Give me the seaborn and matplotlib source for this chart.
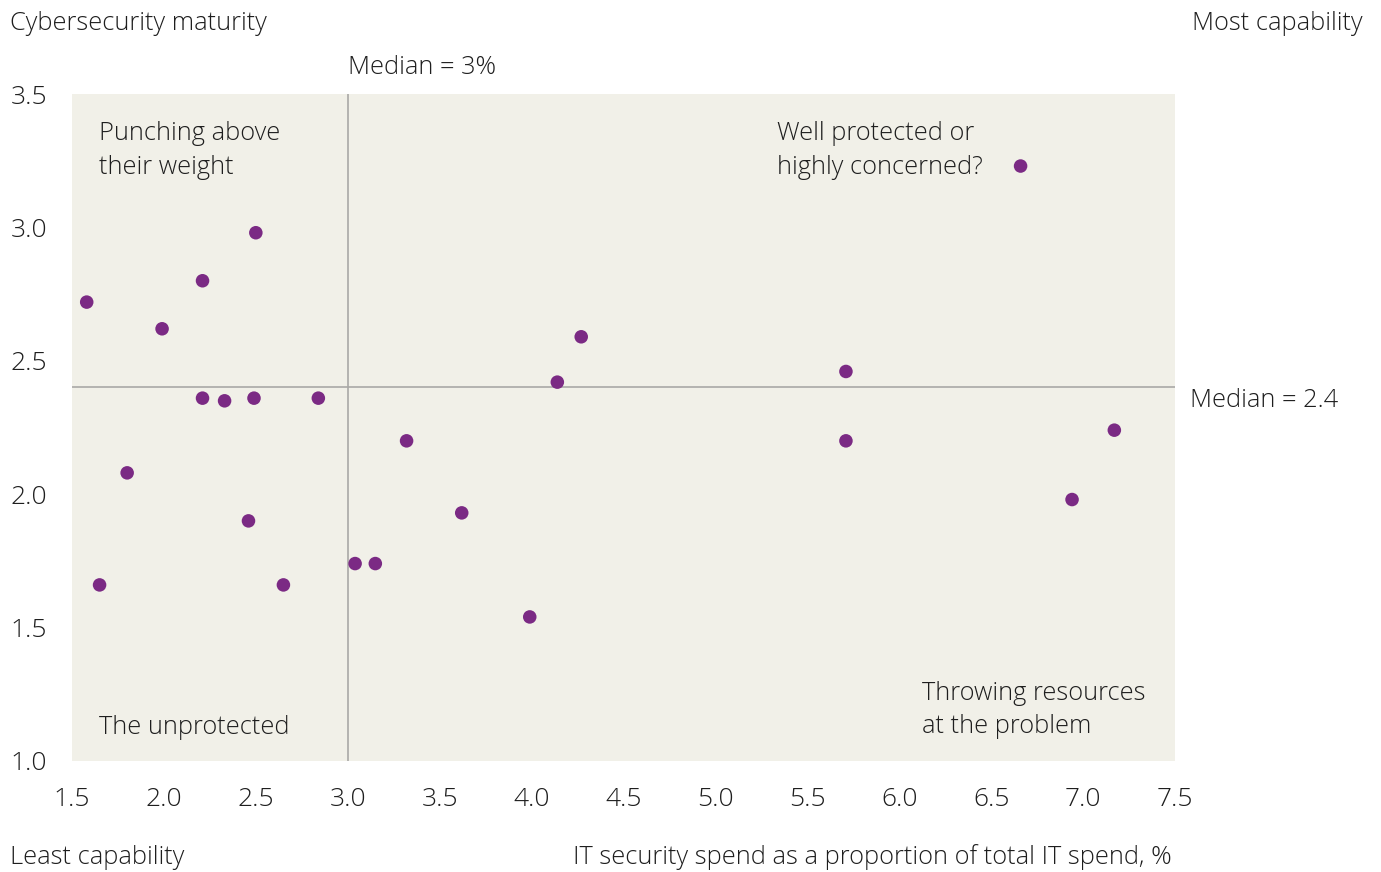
import matplotlib.pyplot as plt
import seaborn as sns
import pandas as pd

# IT security spend (% of IT spend) vs cybersecurity maturity
spend = [1.58, 1.65, 1.80, 1.99, 2.21, 2.21, 2.33, 2.50, 2.49, 2.46, 2.65, 2.84,
         3.04, 3.15, 3.32, 3.62, 3.99, 4.14, 4.27, 5.71, 5.71, 6.66, 6.94, 7.17]
maturity = [2.72, 1.66, 2.08, 2.62, 2.80, 2.36, 2.35, 2.98, 2.36, 1.90, 1.66, 2.36,
            1.74, 1.74, 2.20, 1.93, 1.54, 2.42, 2.59, 2.46, 2.20, 3.23, 1.98, 2.24]
median_x = 3.0
median_y = 2.4
x_ticks = [1.5, 2.0, 2.5, 3.0, 3.5, 4.0, 4.5, 5.0, 5.5, 6.0, 6.5, 7.0, 7.5]
y_ticks = [1.0, 1.5, 2.0, 2.5, 3.0, 3.5]

df = pd.DataFrame({'spend': spend, 'maturity': maturity})

sns.set_style('white')
plt.rcParams['font.family'] = ['Open Sans', 'DejaVu Sans']
plt.rcParams['font.weight'] = 'light'
FS = 18.3

W, H = 1381, 872
fig = plt.figure(figsize=(W / 100, H / 100), dpi=100)
ax = fig.add_axes([72 / W, 1 - 761 / H, (1175 - 72) / W, (761 - 94) / H])
ax.set_facecolor('#f1f0e8')

ax.axvline(median_x, color='#a9a9a6', lw=1.2, zorder=1)
ax.axhline(median_y, color='#a9a9a6', lw=1.2, zorder=1)
sns.scatterplot(data=df, x='spend', y='maturity', ax=ax, color='#7b2a84',
                s=95, edgecolor='none', zorder=3)

ax.set_xlim(1.5, 7.5)
ax.set_ylim(1.0, 3.5)
ax.set_xticks(x_ticks)
ax.set_yticks(y_ticks)
ax.set_xticklabels([f'{v:.1f}' for v in x_ticks])
ax.set_yticklabels([f'{v:.1f}' for v in y_ticks])
ax.tick_params(length=0, labelsize=19, labelcolor='#1e1e1e')
ax.tick_params(axis='x', pad=19)
ax.tick_params(axis='y', pad=18)
ax.set_xlabel('')
ax.set_ylabel('')
for s in ax.spines.values():
    s.set_visible(False)

def ftext(px, py, s, ha='left', va='center'):
    fig.text(px / W, 1 - (py + 2) / H, s, ha=ha, va=va, fontsize=FS,
             color='#1e1e1e', linespacing=1.45)

ftext(10, 22, 'Cybersecurity maturity')
ftext(1363, 22, 'Most capability', ha='right')
ftext(348, 65, 'Median = 3%')
ftext(1190, 398, 'Median = 2.4')
ftext(10, 855, 'Least capability')
ftext(1172, 855, 'IT security spend as a proportion of total IT spend, %', ha='right')
ftext(99, 148.5, 'Punching above\ntheir weight')
ftext(777, 148.5, 'Well protected or\nhighly concerned?')
ftext(99, 725, 'The unprotected')
ftext(922, 708, 'Throwing resources\nat the problem')

fig.savefig('out.png', dpi=100)
